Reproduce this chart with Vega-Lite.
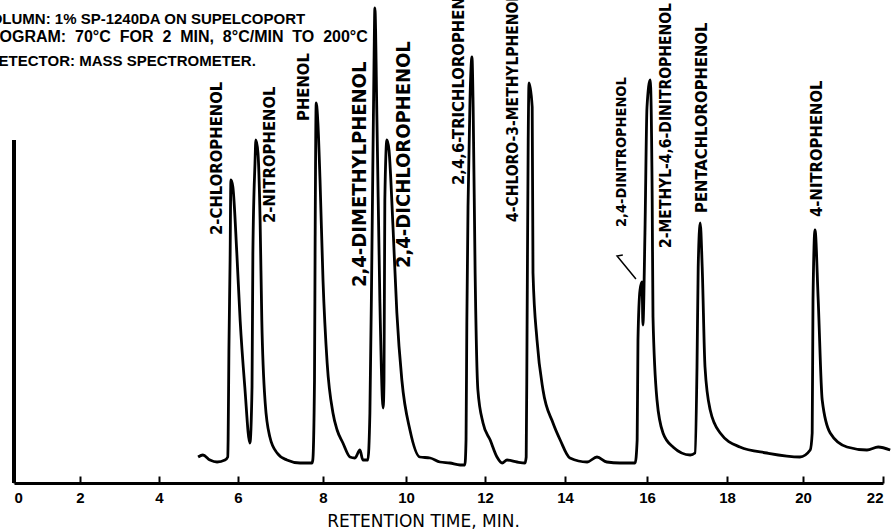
{
  "$schema": "https://vega.github.io/schema/vega-lite/v6.json",
  "autosize": {"type": "none"},
  "padding": {"left": 14, "top": 8, "right": 8, "bottom": 47},
  "width": 869,
  "height": 475,
  "background": "white",
  "config": {"view": {"stroke": null}},
  "datasets": {
    "trace": [
      {"t": 4.99, "a": 26}, {"t": 5.11, "a": 28}, {"t": 5.29, "a": 23}, {"t": 5.47, "a": 21},
      {"t": 5.67, "a": 23}, {"t": 5.74, "a": 26}, {"t": 5.75, "a": 43}, {"t": 5.77, "a": 133},
      {"t": 5.8, "a": 223}, {"t": 5.82, "a": 303}, {"t": 5.87, "a": 296}, {"t": 5.97, "a": 230},
      {"t": 6.05, "a": 163}, {"t": 6.16, "a": 96}, {"t": 6.28, "a": 40}, {"t": 6.33, "a": 96},
      {"t": 6.35, "a": 230}, {"t": 6.4, "a": 320}, {"t": 6.42, "a": 343}, {"t": 6.47, "a": 330},
      {"t": 6.52, "a": 263}, {"t": 6.56, "a": 163}, {"t": 6.64, "a": 80}, {"t": 6.75, "a": 46},
      {"t": 6.92, "a": 30}, {"t": 7.15, "a": 23}, {"t": 7.46, "a": 20}, {"t": 7.74, "a": 20},
      {"t": 7.76, "a": 23}, {"t": 7.8, "a": 103}, {"t": 7.815, "a": 243}, {"t": 7.84, "a": 380},
      {"t": 7.88, "a": 360}, {"t": 7.93, "a": 303}, {"t": 8.0, "a": 203}, {"t": 8.1, "a": 120},
      {"t": 8.24, "a": 70}, {"t": 8.34, "a": 53}, {"t": 8.48, "a": 40}, {"t": 8.65, "a": 26},
      {"t": 8.77, "a": 25}, {"t": 8.89, "a": 33}, {"t": 8.96, "a": 23}, {"t": 9.08, "a": 23},
      {"t": 9.13, "a": 70}, {"t": 9.18, "a": 236}, {"t": 9.23, "a": 423}, {"t": 9.25, "a": 475},
      {"t": 9.3, "a": 363}, {"t": 9.37, "a": 183}, {"t": 9.45, "a": 75}, {"t": 9.47, "a": 103},
      {"t": 9.49, "a": 283}, {"t": 9.54, "a": 343}, {"t": 9.59, "a": 333}, {"t": 9.69, "a": 253},
      {"t": 9.78, "a": 170}, {"t": 9.9, "a": 103}, {"t": 10.1, "a": 53}, {"t": 10.35, "a": 26},
      {"t": 10.61, "a": 25}, {"t": 10.86, "a": 21}, {"t": 11.11, "a": 20}, {"t": 11.37, "a": 18},
      {"t": 11.49, "a": 18}, {"t": 11.52, "a": 43}, {"t": 11.54, "a": 160}, {"t": 11.57, "a": 276},
      {"t": 11.62, "a": 383}, {"t": 11.67, "a": 426}, {"t": 11.7, "a": 376}, {"t": 11.75, "a": 210},
      {"t": 11.82, "a": 93}, {"t": 11.95, "a": 60}, {"t": 12.13, "a": 43}, {"t": 12.3, "a": 26},
      {"t": 12.43, "a": 20}, {"t": 12.55, "a": 23}, {"t": 12.8, "a": 21}, {"t": 13.0, "a": 20},
      {"t": 13.03, "a": 26}, {"t": 13.05, "a": 143}, {"t": 13.08, "a": 343}, {"t": 13.1, "a": 400},
      {"t": 13.18, "a": 376}, {"t": 13.2, "a": 210}, {"t": 13.3, "a": 143}, {"t": 13.45, "a": 93},
      {"t": 13.7, "a": 60}, {"t": 13.88, "a": 43}, {"t": 14.12, "a": 25}, {"t": 14.54, "a": 21},
      {"t": 14.78, "a": 26}, {"t": 15.02, "a": 21}, {"t": 15.34, "a": 20}, {"t": 15.71, "a": 20},
      {"t": 15.76, "a": 43}, {"t": 15.78, "a": 143}, {"t": 15.83, "a": 193}, {"t": 15.88, "a": 201},
      {"t": 15.9, "a": 158}, {"t": 15.95, "a": 250}, {"t": 16.0, "a": 376}, {"t": 16.08, "a": 403},
      {"t": 16.13, "a": 283}, {"t": 16.15, "a": 166}, {"t": 16.25, "a": 83}, {"t": 16.4, "a": 50},
      {"t": 16.65, "a": 36}, {"t": 17.08, "a": 28}, {"t": 17.2, "a": 30}, {"t": 17.25, "a": 116},
      {"t": 17.28, "a": 216}, {"t": 17.33, "a": 260}, {"t": 17.38, "a": 216}, {"t": 17.45, "a": 116},
      {"t": 17.58, "a": 73}, {"t": 17.83, "a": 50}, {"t": 18.34, "a": 36}, {"t": 19.05, "a": 30},
      {"t": 19.92, "a": 26}, {"t": 20.18, "a": 33}, {"t": 20.23, "a": 50}, {"t": 20.25, "a": 183},
      {"t": 20.3, "a": 253}, {"t": 20.38, "a": 183}, {"t": 20.48, "a": 83}, {"t": 20.68, "a": 50},
      {"t": 21.1, "a": 36}, {"t": 21.6, "a": 33}, {"t": 21.88, "a": 36}, {"t": 22.18, "a": 33}
    ],
    "solvent": [{"t": 0, "a": 343}],
    "leader": [
      {"i": 1, "t": 15.41, "a": 228},
      {"i": 2, "t": 15.27, "a": 227},
      {"i": 3, "t": 15.73, "a": 204}
    ],
    "labels": [
      {"name": "2-CHLOROPHENOL", "t": 5.47, "a": 248},
      {"name": "2-NITROPHENOL", "t": 6.75, "a": 260},
      {"name": "PHENOL", "t": 7.56, "a": 362},
      {"name": "2,4-DIMETHYLPHENOL", "t": 8.89, "a": 196},
      {"name": "2,4-DICHLOROPHENOL", "t": 9.95, "a": 215},
      {"name": "2,4,6-TRICHLOROPHENOL", "t": 11.34, "a": 298},
      {"name": "4-CHLORO-3-METHYLPHENOL", "t": 12.7, "a": 261},
      {"name": "2,4-DINITROPHENOL", "t": 15.39, "a": 256},
      {"name": "2-METHYL-4,6-DINITROPHENOL", "t": 16.48, "a": 235},
      {"name": "PENTACHLOROPHENOL", "t": 17.38, "a": 270},
      {"name": "4-NITROPHENOL", "t": 20.35, "a": 266}
    ],
    "header": [
      {"line": "COLUMN: 1% SP-1240DA ON SUPELCOPORT", "t": 7.58, "a": 459},
      {"line": "PROGRAM:\u00a0 70°C\u00a0 FOR\u00a0 2\u00a0 MIN,\u00a0 8°C/MIN\u00a0 TO\u00a0 200°C", "t": 9.08, "a": 441},
      {"line": "DETECTOR: MASS SPECTROMETER.", "t": 6.42, "a": 417}
    ]
  },
  "encoding": {
    "x": {
      "field": "t",
      "type": "quantitative",
      "scale": {
        "domain": [0, 2, 4, 6, 8, 10, 12, 14, 16, 18, 20, 22],
        "range": [0, 66, 145, 224, 309, 392, 471, 551, 633, 713, 789, 869],
        "nice": false,
        "zero": false
      },
      "axis": {
        "values": [0, 2, 4, 6, 8, 10, 12, 14, 16, 18, 20, 22],
        "grid": false,
        "domainColor": "black",
        "domainWidth": 3,
        "tickColor": "black",
        "tickWidth": 2,
        "tickSize": -7,
        "labelFont": "Liberation Sans",
        "labelFontWeight": "bold",
        "labelFontSize": 15,
        "labelColor": "black",
        "labelPadding": 14,
        "title": "RETENTION TIME, MIN.",
        "titleFont": "DejaVu Sans",
        "titleFontWeight": "normal",
        "titleFontSize": 17,
        "titleColor": "black",
        "titleX": 409,
        "titleY": 43,
        "titleBaseline": "alphabetic",
        "titleAlign": "center",
        "titleAnchor": null
      }
    },
    "y": {
      "field": "a",
      "type": "quantitative",
      "scale": {"domain": [0, 475], "nice": false, "zero": true},
      "axis": null
    }
  },
  "layer": [
    {
      "data": {"name": "solvent"},
      "mark": {"type": "rule", "color": "black", "strokeWidth": 4},
      "encoding": {"y2": {"datum": 0}}
    },
    {
      "data": {"name": "trace"},
      "mark": {"type": "line", "color": "black", "strokeWidth": 2.8, "strokeJoin": "round", "interpolate": "monotone"}
    },
    {
      "data": {"name": "leader"},
      "mark": {"type": "line", "color": "black", "strokeWidth": 1.5},
      "encoding": {"order": {"field": "i", "type": "quantitative"}}
    },
    {
      "data": {"name": "labels"},
      "transform": [{"filter": {"field": "name", "oneOf": ["2-CHLOROPHENOL", "2-NITROPHENOL", "PHENOL", "PENTACHLOROPHENOL", "4-NITROPHENOL", "2,4,6-TRICHLOROPHENOL"]}}],
      "mark": {"type": "text", "angle": -90, "align": "left", "baseline": "middle", "font": "DejaVu Sans Condensed, DejaVu Sans, sans-serif", "fontWeight": "bold", "fontSize": 16.5, "color": "black"},
      "encoding": {"text": {"field": "name"}}
    },
    {
      "data": {"name": "labels"},
      "transform": [{"filter": {"field": "name", "oneOf": ["4-CHLORO-3-METHYLPHENOL", "2-METHYL-4,6-DINITROPHENOL"]}}],
      "mark": {"type": "text", "angle": -90, "align": "left", "baseline": "middle", "font": "DejaVu Sans Condensed, DejaVu Sans, sans-serif", "fontWeight": "bold", "fontSize": 15.5, "color": "black"},
      "encoding": {"text": {"field": "name"}}
    },
    {
      "data": {"name": "labels"},
      "transform": [{"filter": {"field": "name", "oneOf": ["2,4-DINITROPHENOL"]}}],
      "mark": {"type": "text", "angle": -90, "align": "left", "baseline": "middle", "font": "DejaVu Sans Condensed, DejaVu Sans, sans-serif", "fontWeight": "bold", "fontSize": 14.5, "color": "black"},
      "encoding": {"text": {"field": "name"}}
    },
    {
      "data": {"name": "labels"},
      "transform": [{"filter": {"field": "name", "oneOf": ["2,4-DIMETHYLPHENOL", "2,4-DICHLOROPHENOL"]}}],
      "mark": {"type": "text", "angle": -90, "align": "left", "baseline": "middle", "font": "DejaVu Sans Condensed, DejaVu Sans, sans-serif", "fontWeight": "bold", "fontSize": 20, "color": "black"},
      "encoding": {"text": {"field": "name"}}
    },
    {
      "data": {"name": "header"},
      "transform": [{"filter": {"not": {"field": "line", "oneOf": ["PROGRAM:\u00a0 70°C\u00a0 FOR\u00a0 2\u00a0 MIN,\u00a0 8°C/MIN\u00a0 TO\u00a0 200°C"]}}}],
      "mark": {"type": "text", "align": "right", "baseline": "alphabetic", "font": "Liberation Sans", "fontWeight": "bold", "fontSize": 15, "color": "black"},
      "encoding": {"text": {"field": "line"}}
    },
    {
      "data": {"name": "header"},
      "transform": [{"filter": {"field": "line", "oneOf": ["PROGRAM:\u00a0 70°C\u00a0 FOR\u00a0 2\u00a0 MIN,\u00a0 8°C/MIN\u00a0 TO\u00a0 200°C"]}}],
      "mark": {"type": "text", "align": "right", "baseline": "alphabetic", "font": "Liberation Sans", "fontWeight": "bold", "fontSize": 16, "color": "black"},
      "encoding": {"text": {"field": "line"}}
    }
  ]
}
